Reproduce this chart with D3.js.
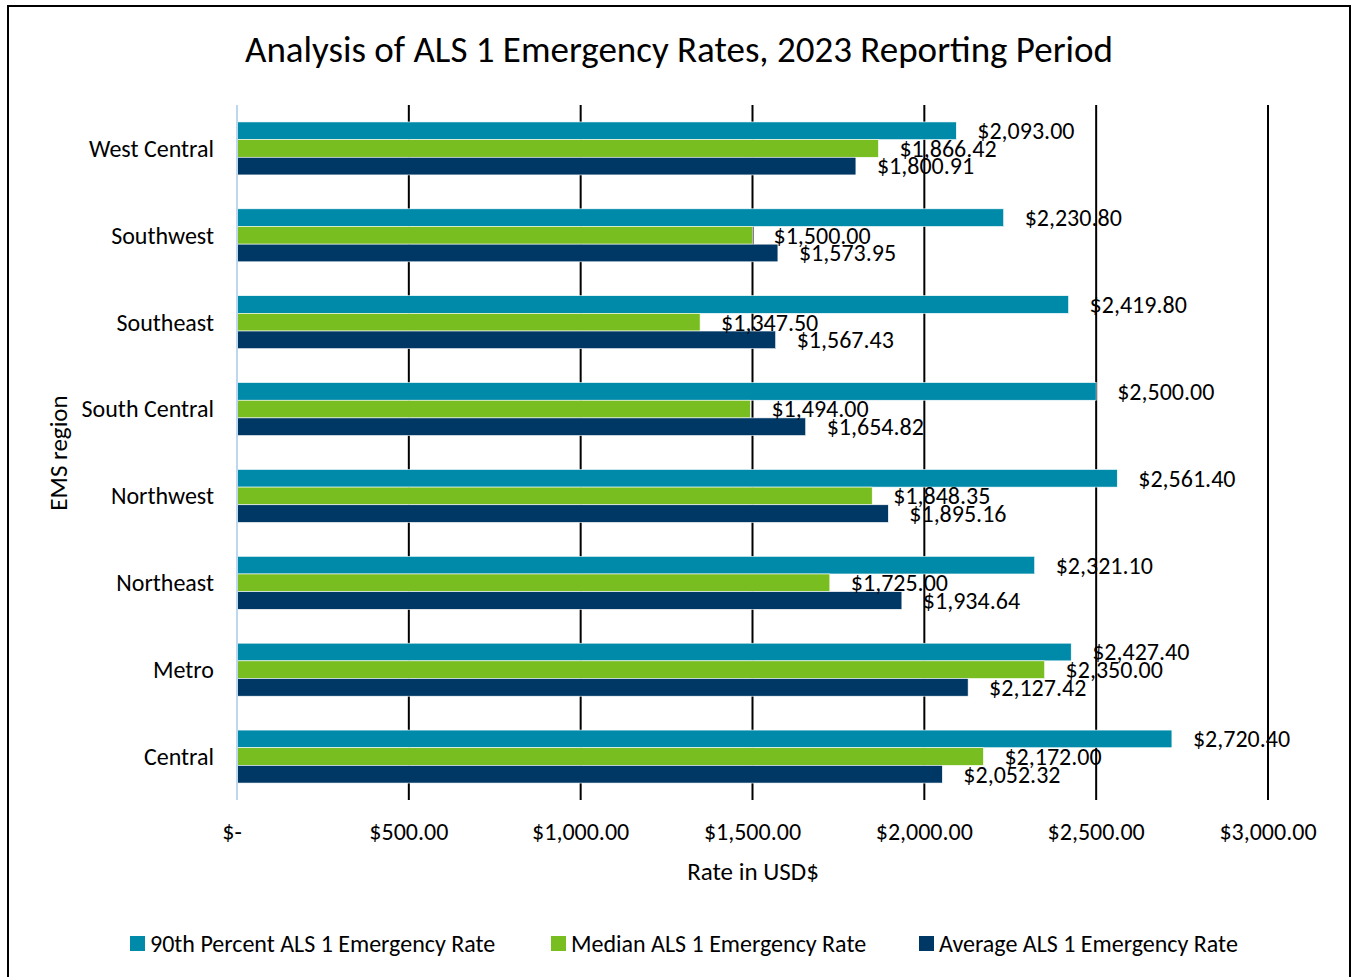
<!DOCTYPE html>
<html>
<head>
<meta charset="utf-8">
<script src="https://cdn.jsdelivr.net/npm/d3@7"></script>
<style>
  body { margin: 0; background: #fff; }
  text { font-family: Carlito, Calibri, Lato, sans-serif; fill: #000; }
</style>
</head>
<body>
<svg width="1353" height="977"></svg>
<script>
// Data
var regions = ["West Central", "Southwest", "Southeast", "South Central", "Northwest", "Northeast", "Metro", "Central"];
var seriesNames = ["90th Percent ALS 1 Emergency Rate", "Median ALS 1 Emergency Rate", "Average ALS 1 Emergency Rate"];
var pct90 = [2093.00, 2230.80, 2419.80, 2500.00, 2561.40, 2321.10, 2427.40, 2720.40];
var median = [1866.42, 1500.00, 1347.50, 1494.00, 1848.35, 1725.00, 2350.00, 2172.00];
var average = [1800.91, 1573.95, 1567.43, 1654.82, 1895.16, 1934.64, 2127.42, 2052.32];
var xTicks = [0, 500, 1000, 1500, 2000, 2500, 3000];
var colors = ["#008AA9", "#78BE21", "#003865"];

var svg = d3.select("svg");

// chart border
svg.append("rect")
  .attr("x", 8).attr("y", 6)
  .attr("width", 1342).attr("height", 980)
  .attr("fill", "none").attr("stroke", "#000").attr("stroke-width", 2);

var plotLeft = 237, plotRight = 1268, plotTop = 105, plotBottom = 800;

var x = d3.scaleLinear().domain([0, 3000]).range([plotLeft, plotRight]);
var y0 = d3.scaleBand().domain(regions).range([plotTop, plotBottom]).paddingInner(0.39).paddingOuter(0.195);
var y1 = d3.scaleBand().domain(d3.range(3)).range([0, y0.bandwidth()]);

var rows = regions.map(function (r, i) {
  return { region: r, values: [pct90[i], median[i], average[i]] };
});

var fmt = function (v) { return v === 0 ? "$-" : "$" + d3.format(",.2f")(v); };

// Title
svg.append("text")
  .attr("x", 679).attr("y", 62)
  .attr("text-anchor", "middle")
  .style("font-size", "37px")
  .text("Analysis of ALS 1 Emergency Rates, 2023 Reporting Period");

// gridlines
svg.append("g")
  .selectAll("line")
  .data(xTicks.slice(1))
  .enter().append("line")
  .attr("x1", function (d) { return x(d); })
  .attr("x2", function (d) { return x(d); })
  .attr("y1", plotTop).attr("y2", plotBottom)
  .attr("stroke", "#000").attr("stroke-width", 2);

// bars
var groups = svg.append("g")
  .selectAll("g")
  .data(rows)
  .enter().append("g")
  .attr("transform", function (d) { return "translate(0," + y0(d.region) + ")"; });

groups.selectAll("rect")
  .data(function (d) { return d.values; })
  .enter().append("rect")
  .attr("x", x(0))
  .attr("y", function (d, i) { return y1(i); })
  .attr("width", function (d) { return x(d) - x(0); })
  .attr("height", y1.bandwidth())
  .attr("fill", function (d, i) { return colors[i]; })
  .attr("stroke", "#fff").attr("stroke-width", 0.6);

// axis line
svg.append("line")
  .attr("x1", x(0)).attr("x2", x(0))
  .attr("y1", plotTop).attr("y2", plotBottom)
  .attr("stroke", "#bdd7ee").attr("stroke-width", 2);

// data labels
groups.selectAll("text")
  .data(function (d) { return d.values; })
  .enter().append("text")
  .attr("x", function (d) { return x(d) + 21; })
  .attr("y", function (d, i) { return y1(i) + y1.bandwidth() / 2; })
  .attr("dy", "0.35em")
  .style("font-size", "24px")
  .text(fmt);

// category labels
svg.append("g")
  .selectAll("text")
  .data(regions)
  .enter().append("text")
  .attr("x", 214)
  .attr("y", function (d) { return y0(d) + y0.bandwidth() / 2; })
  .attr("dy", "0.35em")
  .attr("text-anchor", "end")
  .style("font-size", "24px")
  .text(function (d) { return d; });

// x tick labels
svg.append("g")
  .selectAll("text")
  .data(xTicks)
  .enter().append("text")
  .attr("x", function (d) { return d === 0 ? x(d) - 5 : x(d); })
  .attr("y", 840)
  .attr("text-anchor", "middle")
  .style("font-size", "24px")
  .text(fmt);

// axis titles
svg.append("text")
  .attr("x", 753).attr("y", 880)
  .attr("text-anchor", "middle")
  .style("font-size", "25px")
  .text("Rate in USD$");

svg.append("text")
  .attr("transform", "translate(67,453) rotate(-90)")
  .attr("text-anchor", "middle")
  .style("font-size", "25px")
  .text("EMS region");

// legend
var legendX = [130, 551, 919];
var legend = svg.append("g")
  .selectAll("g")
  .data(seriesNames)
  .enter().append("g")
  .attr("transform", function (d, i) { return "translate(" + legendX[i] + ",936)"; });

legend.append("rect")
  .attr("width", 15).attr("height", 15)
  .attr("fill", function (d, i) { return colors[i]; });

legend.append("text")
  .attr("x", 20).attr("y", 7.5)
  .attr("dy", "0.35em")
  .style("font-size", "24px")
  .text(function (d) { return d; });
</script>
</body>
</html>
